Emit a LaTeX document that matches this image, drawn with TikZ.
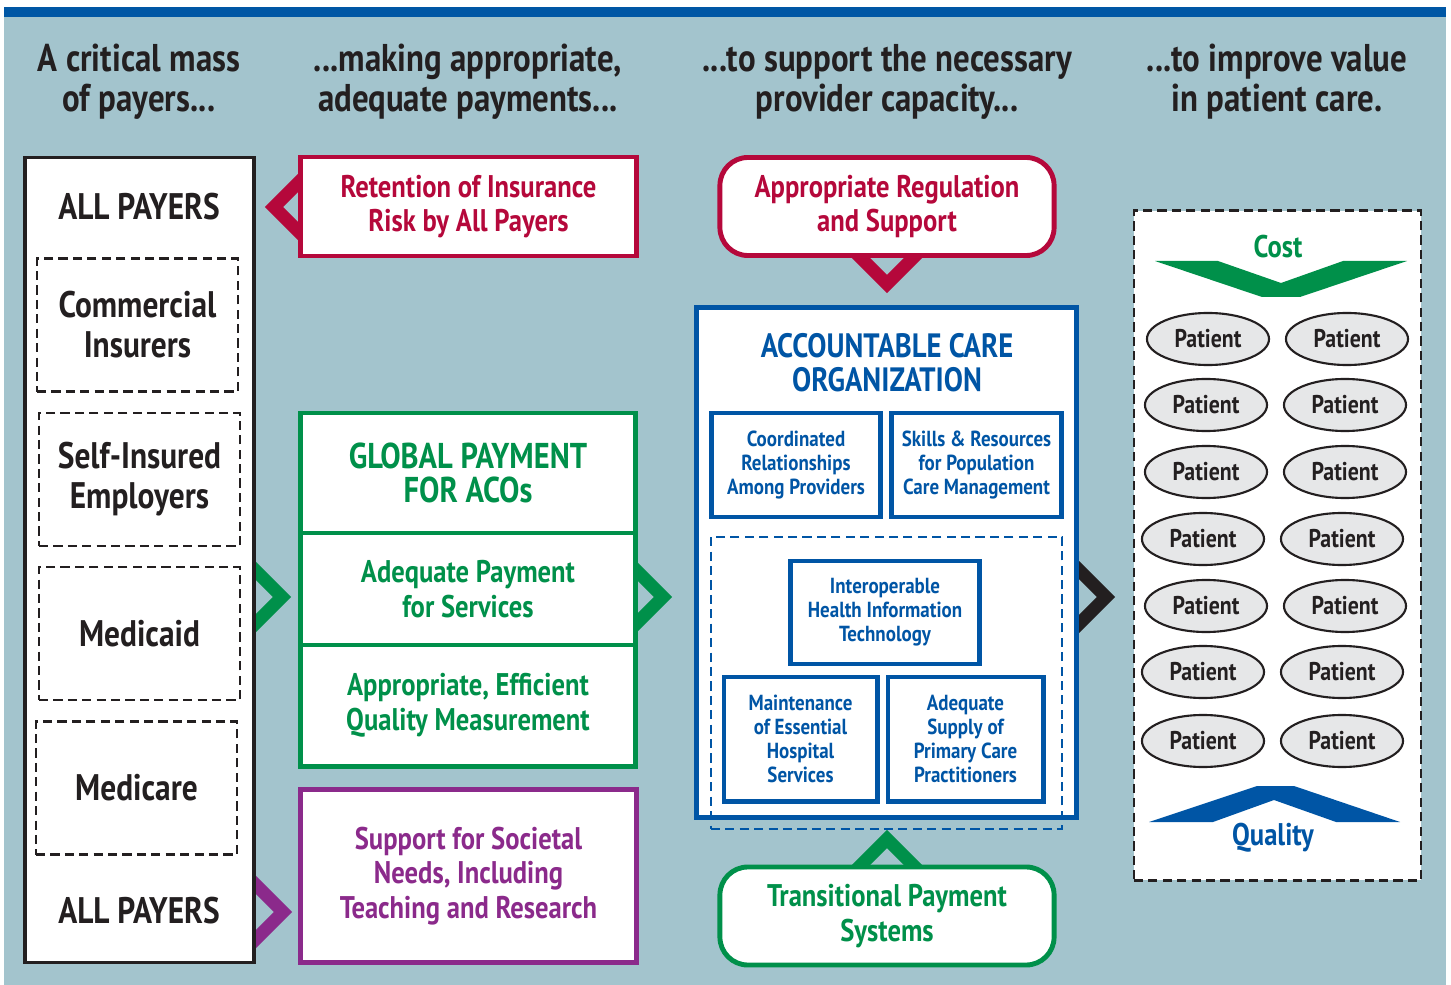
\documentclass[tikz,border=0pt]{standalone}
\usepackage{fontspec}
\setmainfont{PT Sans}[FakeStretch=0.85]
\newfontfamily\acofont{PT Sans}[FakeStretch=0.87]
\usetikzlibrary{positioning,shapes.geometric}

\definecolor{panel}{RGB}{163,196,205}
\definecolor{topbar}{RGB}{0,87,165}
\definecolor{acored}{RGB}{181,8,59}
\definecolor{acogreen}{RGB}{0,144,74}
\definecolor{acoblue}{RGB}{0,85,165}
\definecolor{acopurple}{RGB}{139,42,139}
\definecolor{ink}{RGB}{35,31,32}
\definecolor{pgray}{RGB}{230,231,232}

\pgfdeclarelayer{backdrop}
\pgfdeclarelayer{links}
\pgfsetlayers{backdrop,links,main}

\tikzset{
  hdr/.style={text=ink, align=center, font=\fontsize{11}{11.4}\selectfont},
  payertxt/.style={text=ink, font=\fontsize{10.5}{11.4}\selectfont},
  payerbox/.style={draw=ink, fill=white, line width=0.9pt, minimum width=2.29cm, minimum height=8.04cm},
  payer/.style={draw=ink, dash pattern=on 2.6pt off 1.5pt, line width=0.75pt, minimum width=2.01cm,
    minimum height=1.33cm, align=center, text=ink, font=\fontsize{10.5}{11.4}\selectfont},
  paybox/.style={draw=#1, fill=white, line width=1.4pt, text=#1, align=center, inner sep=0pt,
    minimum width=3.35cm, font=\fontsize{8.9}{9.9}\selectfont},
  callout/.style={paybox=#1, rounded corners=0.28cm, minimum width=3.34cm, minimum height=0.98cm},
  acobox/.style={draw=acoblue, fill=white, line width=1.4pt, text=acoblue, align=center, inner sep=0pt,
    font=\acofont\fontsize{6.2}{6.8}\selectfont},
  patient/.style={ellipse, draw=ink, fill=pgray, line width=0.6pt, minimum width=1.22cm,
    minimum height=0.52cm, text=ink, inner sep=0pt, font=\fontsize{7.3}{8}\selectfont},
  chev/.style={draw=#1, line width=3.7pt, line join=miter},
}

\begin{document}
\bfseries
\begin{tikzpicture}[x=0.01cm, y=-0.01cm]
    \useasboundingbox (0,0) rectangle (1451,985);
    \begin{pgfonlayer}{backdrop}
      \fill[panel] (4,8) rectangle (1446,985);
      \fill[topbar] (4,7) rectangle (1446,17);
    \end{pgfonlayer}

    % column headings
    \node[hdr] (h1) at (139,82) {A critical mass\\of payers...};
    \node[hdr] (h2) at (468,82) {...making appropriate,\\adequate payments...};
    \node[hdr] (h3) at (887,82) {...to support the necessary\\provider capacity...};
    \node[hdr] (h4) at (1277,82) {...to improve value\\in patient care.};

    % payers
    \node[payerbox] (payers) at (139.5,560) {};
    \node[payertxt] (allTop) at (139,207) {ALL PAYERS};
    \node[payer] (commercial) at (137.5,325) {Commercial\\Insurers};
    \node[payer] (selfins) at (139.5,479.5) {Self-Insured\\Employers};
    \node[payer] (medicaid) at (139.5,633.5) {Medicaid};
    \node[payer] (medicare) at (136.5,788) {Medicare};
    \node[payertxt] (allBot) at (139,911) {ALL PAYERS};

    % payments
    \node[paybox=acored, minimum height=0.99cm] (retention) at (468.5,206.5) {Retention of Insurance\\Risk by All Payers};
    \node[paybox=acogreen, minimum width=3.34cm, minimum height=1.2cm,
      font=\fontsize{10.2}{9.8}\selectfont] (global) at (468,473) {GLOBAL PAYMENT\\FOR ACOs};
    \node[paybox=acogreen, minimum width=3.34cm, minimum height=1.12cm] (adequate) at (468,589) {Adequate Payment\\for Services};
    \node[paybox=acogreen, minimum width=3.34cm, minimum height=1.21cm] (measure) at (468,705.5) {Appropriate, Efficient\\Quality Measurement};
    \node[paybox=acopurple, minimum height=1.72cm] (societal) at (468.5,876) {Support for Societal\\Needs, Including\\Teaching and Research};

    % provider capacity
    \node[callout=acored] (regulation) at (887,206.5) {Appropriate Regulation\\and Support};
    \node[acobox, minimum width=3.79cm, minimum height=5.09cm] (aco) at (886.5,562.5) {};
    \node[text=acoblue, align=center, font=\fontsize{9.6}{9.7}\selectfont] (acoTitle) at (887,363) {ACCOUNTABLE CARE\\ORGANIZATION};
    \node[acobox, minimum width=1.68cm, minimum height=1.04cm] (coord) at (796,465) {Coordinated\\Relationships\\Among Providers};
    \node[acobox, minimum width=1.69cm, minimum height=1.04cm] (skills) at (976.5,465) {Skills \& Resources\\for Population\\Care Management};
    \node[draw=acoblue, dash pattern=on 2.6pt off 1.5pt, line width=0.75pt, minimum width=3.51cm,
      minimum height=2.92cm] (infra) at (886.5,683) {};
    \node[acobox, minimum width=1.88cm, minimum height=1.03cm] (hit) at (885,612.5) {Interoperable\\Health Information\\Technology};
    \node[acobox, minimum width=1.53cm, minimum height=1.24cm] (hospital) at (800.5,739) {Maintenance\\of Essential\\Hospital\\Services};
    \node[acobox, minimum width=1.55cm, minimum height=1.24cm] (primary) at (965.5,739) {Adequate\\Supply of\\Primary Care\\Practitioners};
    \node[callout=acogreen] (transition) at (887,916) {Transitional Payment\\Systems};

    % patient care
    \node[draw=ink, fill=white, dash pattern=on 2.6pt off 1.5pt, line width=0.75pt, minimum width=2.87cm,
      minimum height=6.69cm] (care) at (1277.5,545.5) {};
    \node[text=acogreen, font=\fontsize{8.9}{10}\selectfont] (cost) at (1278,247) {Cost};
    \fill[acogreen] (1155,261) -- (1218,261) -- (1281,283) -- (1343,261) -- (1407,261) -- (1300,297) -- (1262,297) -- cycle;
    \node[patient] (p1a) at (1208,339) {Patient};
    \node[patient] (p1b) at (1347,339) {Patient};
    \node[patient] (p2a) at (1206,405) {Patient};
    \node[patient] (p2b) at (1345,405) {Patient};
    \node[patient] (p3a) at (1206,472) {Patient};
    \node[patient] (p3b) at (1345,472) {Patient};
    \node[patient] (p4a) at (1203,539) {Patient};
    \node[patient] (p4b) at (1342,539) {Patient};
    \node[patient] (p5a) at (1206,606) {Patient};
    \node[patient] (p5b) at (1345,606) {Patient};
    \node[patient] (p6a) at (1203,672) {Patient};
    \node[patient] (p6b) at (1342,672) {Patient};
    \node[patient] (p7a) at (1203,741) {Patient};
    \node[patient] (p7b) at (1342,741) {Patient};
    \fill[acoblue] (1149,822) -- (1257,786) -- (1294,786) -- (1400,822) -- (1336,822) -- (1274,800) -- (1213,822) -- cycle;
    \node[text=acoblue, font=\fontsize{8.9}{10}\selectfont] (quality) at (1273,838) {Quality};

    % chevrons between the columns
    \begin{pgfonlayer}{links}
      \coordinate (retTip) at (274,207);
      \coordinate (regTip) at (887,284);
      \coordinate (payTip) at (282,597);
      \coordinate (acoIn) at (663,597);
      \coordinate (acoOut) at (1106,597);
      \coordinate (socTip) at (283,912);
      \coordinate (trTip) at (887,839);
      \draw[chev=acored] (retTip) ++(35,-35) -- (retTip) -- ++(35,35);
      \draw[chev=acored] (regTip) ++(-35,-35) -- (regTip) -- ++(35,-35);
      \draw[chev=acogreen] (payTip) ++(-35,-35) -- (payTip) -- ++(-35,35);
      \draw[chev=acogreen] (acoIn) ++(-35,-35) -- (acoIn) -- ++(-35,35);
      \draw[chev=ink] (acoOut) ++(-35,-35) -- (acoOut) -- ++(-35,35);
      \draw[chev=acopurple] (socTip) ++(-35,-35) -- (socTip) -- ++(-35,35);
      \draw[chev=acogreen] (trTip) ++(-35,35) -- (trTip) -- ++(35,35);
    \end{pgfonlayer}
\end{tikzpicture}
\end{document}
